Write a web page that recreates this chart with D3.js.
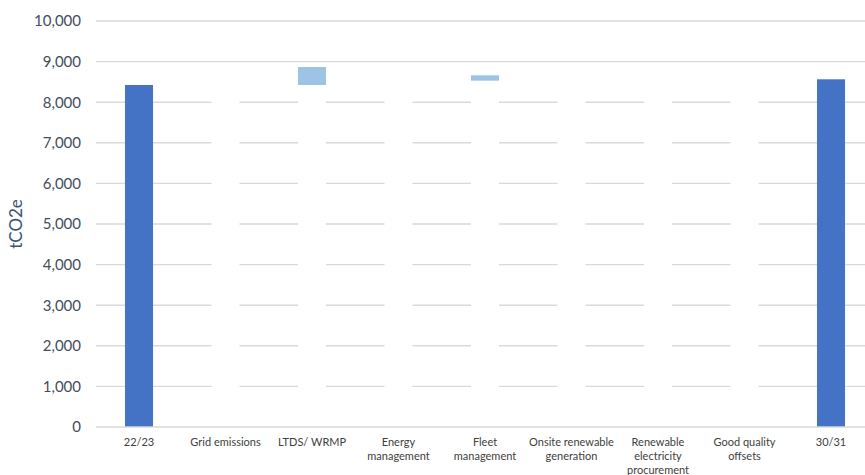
<!DOCTYPE html>
<html>
<head>
<meta charset="utf-8">
<script src="https://cdn.jsdelivr.net/npm/d3@7"></script>
<style>
  html, body { margin: 0; padding: 0; background: #ffffff; }
  svg { display: block; }
</style>
</head>
<body>
<svg id="chart" width="865" height="475"></svg>
<script>
// Emissions bridge from 22/23 to 30/31 (tCO2e)
const categories = [
  "22/23", "Grid emissions", "LTDS/ WRMP", "Energy management",
  "Fleet management", "Onsite renewable generation",
  "Renewable electricity procurement", "Good quality offsets", "30/31"
];
// Axis label lines for each category
const categoryLines = [
  ["22/23"], ["Grid emissions"], ["LTDS/ WRMP"], ["Energy", "management"],
  ["Fleet", "management"], ["Onsite renewable", "generation"],
  ["Renewable", "electricity", "procurement"], ["Good quality", "offsets"], ["30/31"]
];
// Totals for the end columns, changes for the steps in between
const isTotal = [true, false, false, false, false, false, false, false, true];
const values  = [8424, 0, 443, -337, 132, -45, -30, -23, 8564];
const yTicks  = [0, 1000, 2000, 3000, 4000, 5000, 6000, 7000, 8000, 9000, 10000];

const colors = { total: "#4472C4", increase: "#9DC3E6", decrease: "#FFFFFF", hidden: "#FFFFFF" };

// Running totals -> floating segments
let running = 0;
const rows = categories.map((c, i) => {
  let lo, hi, kind;
  if (isTotal[i]) {
    running = values[i];
    lo = 0; hi = values[i]; kind = "total";
  } else {
    const start = running, end = running + values[i];
    lo = Math.min(start, end); hi = Math.max(start, end);
    kind = values[i] >= 0 ? "increase" : "decrease";
    running = end;
  }
  return { c, i, lo, hi, kind };
});

const svg = d3.select("#chart");
const plotLeft = 95.75, plotRight = 874.25, plotTop = 21, plotBottom = 427;

const x = d3.scaleBand().domain(categories).range([plotLeft, plotRight])
  .paddingInner(0.676).paddingOuter(0.338);
const y = d3.scaleLinear().domain([0, 10000]).range([plotBottom, plotTop]);

// Gridlines
svg.append("g").selectAll("line").data(yTicks.filter(d => d > 0)).join("line")
  .attr("x1", 96).attr("x2", 865)
  .attr("y1", d => y(d)).attr("y2", d => y(d))
  .attr("stroke", "#d9d9d9").attr("stroke-width", 1.4);

// Y tick labels
svg.append("g").selectAll("text").data(yTicks).join("text")
  .attr("x", 81).attr("y", d => y(d))
  .attr("dy", "0.36em")
  .attr("text-anchor", "end")
  .attr("font-family", "Lato, 'Open Sans', sans-serif")
  .attr("font-size", 15)
  .attr("fill", "#434d5e")
  .text(d => d3.format(",")(d));

// Y axis title
svg.append("text")
  .attr("transform", `translate(22,${(plotTop + plotBottom) / 2}) rotate(-90)`)
  .attr("text-anchor", "middle")
  .attr("font-family", "Lato, 'Open Sans', sans-serif")
  .attr("font-size", 17)
  .attr("fill", "#3d5272")
  .text("tCO2e");

// Invisible bases (white) beneath floating steps
svg.append("g").selectAll("rect").data(rows.filter(r => r.kind !== "total")).join("rect")
  .attr("x", d => x(d.c)).attr("width", x.bandwidth())
  .attr("y", d => y(d.lo)).attr("height", d => y(0) - y(d.lo))
  .attr("fill", colors.hidden);

// Visible segments
svg.append("g").selectAll("rect").data(rows).join("rect")
  .attr("x", d => x(d.c)).attr("width", x.bandwidth())
  .attr("y", d => y(d.hi)).attr("height", d => y(d.lo) - y(d.hi))
  .attr("fill", d => colors[d.kind]);

// Baseline
svg.append("line")
  .attr("x1", 96).attr("x2", 865).attr("y1", y(0)).attr("y2", y(0))
  .attr("stroke", "#d9d9d9").attr("stroke-width", 1.4);

// Category labels
const labels = svg.append("g").selectAll("text").data(categories).join("text")
  .attr("text-anchor", "middle")
  .attr("font-family", "Lato, 'Open Sans', sans-serif")
  .attr("font-size", 11)
  .attr("fill", "#404040")
  .attr("x", d => x(d) + x.bandwidth() / 2)
  .attr("y", plotBottom + 19);
labels.each(function(d, i) {
  const t = d3.select(this);
  categoryLines[i].forEach((line, k) => {
    t.append("tspan")
      .attr("x", x(d) + x.bandwidth() / 2)
      .attr("dy", k === 0 ? 0 : 14)
      .text(line);
  });
});
</script>
</body>
</html>
